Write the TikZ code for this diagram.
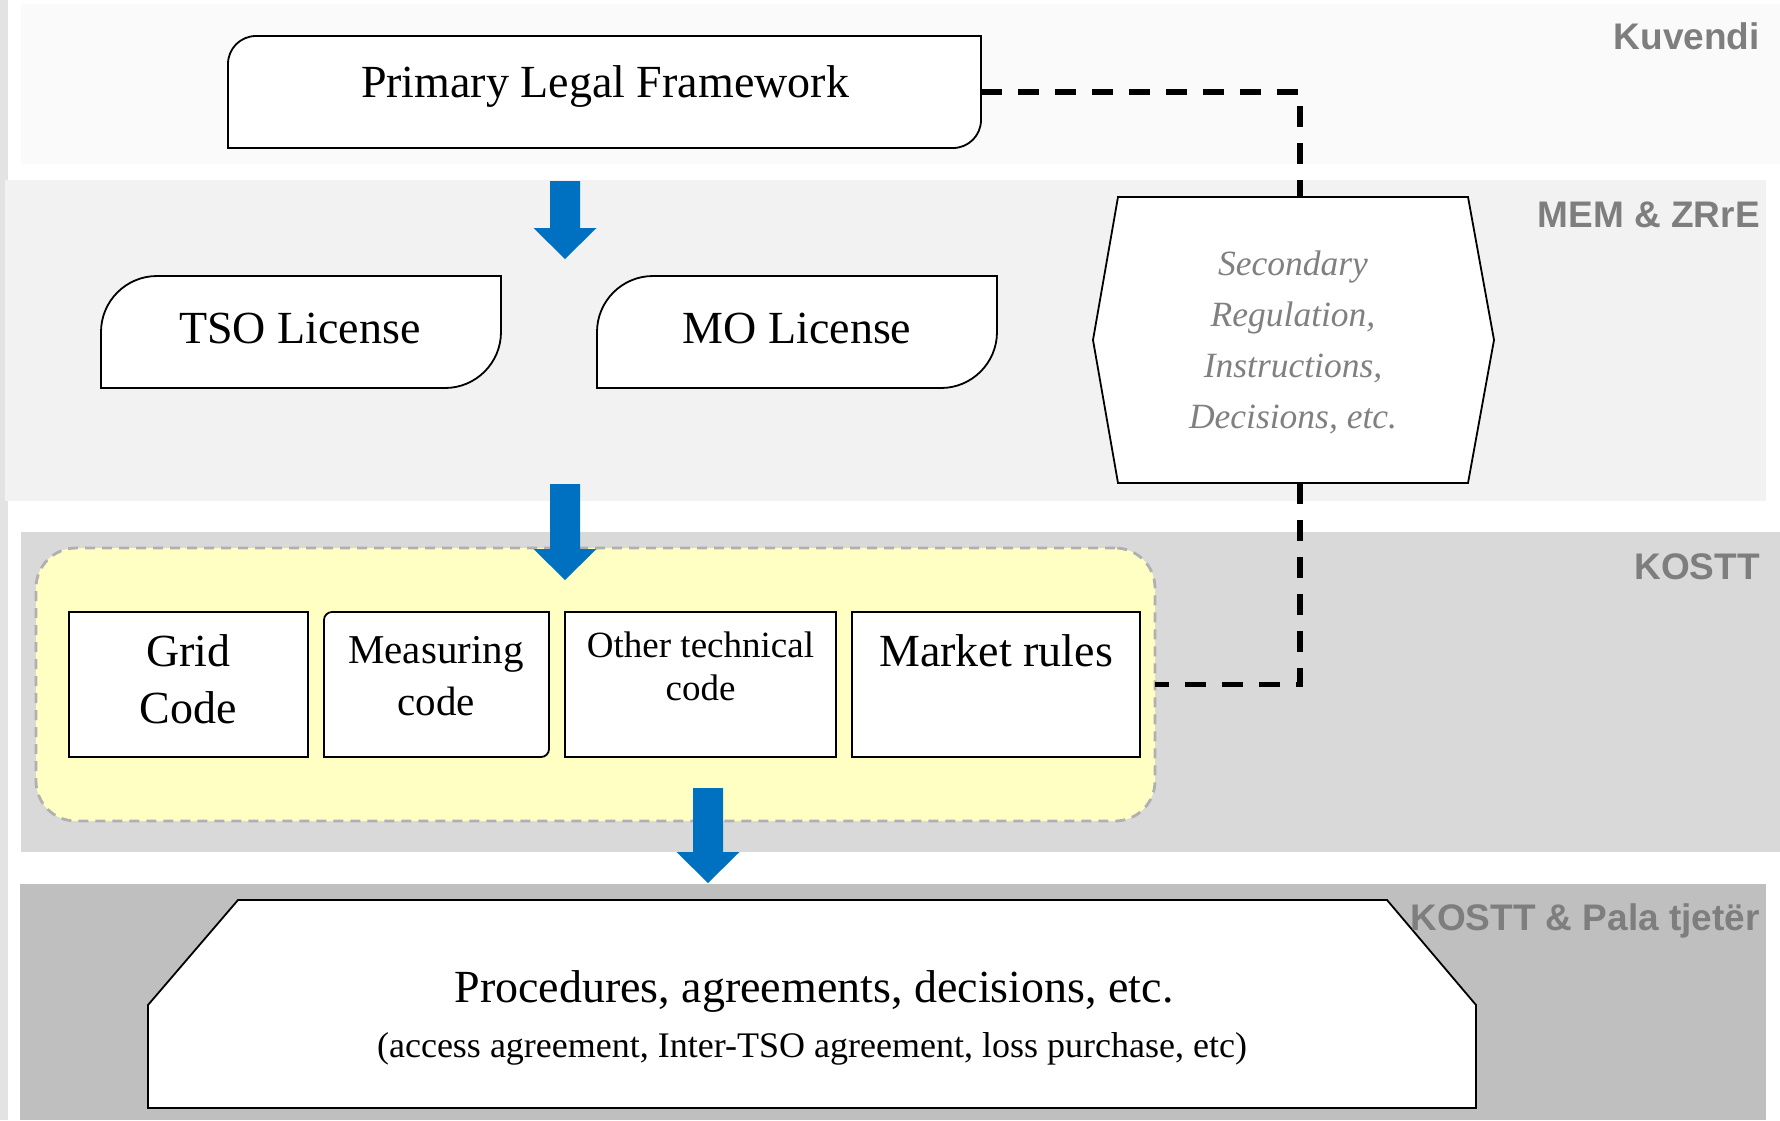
\documentclass[tikz,border=0pt]{standalone}
\usepackage{fontspec}
\setmainfont{Liberation Serif}
\newfontfamily\labelfont{Liberation Sans}
\usetikzlibrary{calc}
\definecolor{bandA}{HTML}{FAFAFA}
\definecolor{bandB}{HTML}{F2F2F2}
\definecolor{bandC}{HTML}{D9D9D9}
\definecolor{bandD}{HTML}{BFBFBF}
\definecolor{stripgray}{HTML}{E3E3E3}
\definecolor{arrblue}{HTML}{0070C0}
\definecolor{yelfill}{HTML}{FFFFC4}
\definecolor{yelborder}{HTML}{B0B0B0}
\definecolor{labgray}{HTML}{7E7E7E}
\definecolor{hextext}{HTML}{808080}
\newcommand{\bluearrow}[3]{\fill[arrblue] (#1-15,#2) -- (#1+15,#2) -- (#1+15,#3-31) -- (#1+31.5,#3-31) -- (#1,#3) -- (#1-31.5,#3-31) -- (#1-15,#3-31) -- cycle;}
\begin{document}
\begin{tikzpicture}[x=1pt,y=-1pt,
  area/.style={draw=none,inner sep=0pt,outer sep=0pt},
  boxline/.style={draw=black,line width=1.8pt,fill=white,line join=miter},
  conn/.style={draw=black,line width=5.5pt,dash pattern=on 21pt off 16pt},
  yelbox/.style={fill=yelfill,draw=yelborder,line width=2.8pt,dash pattern=on 10pt off 7pt,rounded corners=40pt},
  lab/.style={anchor=base east,text=labgray,font=\labelfont\bfseries\fontsize{37}{44}\selectfont,inner sep=0pt},
  txt/.style={inner sep=0pt,anchor=base,text=black},
]
\useasboundingbox (0,0) rectangle (1780,1120);
% background bands
\fill[white] (0,0) rectangle (1780,1120);
\fill[stripgray] (0,0) rectangle (8,1120);
\fill[bandA] (21,4) rectangle (1780,164);
\fill[bandB] (5,180) rectangle (1766,501);
\fill[bandC] (21,532) rectangle (1780,852);
\fill[bandD] (20,884) rectangle (1766,1120);

% Primary Legal Framework
\node[area,minimum width=753pt,minimum height=112pt] (plf) at (604.5,92) {};
\draw[boxline] (228,148) -- (228,64) .. controls (228,48.5) and (240.5,36) .. (256,36) -- (981,36) -- (981,120) .. controls (981,135.5) and (968.5,148) .. (953,148) -- cycle;
\node[txt,font=\fontsize{46}{52}\selectfont] (plft) at (605,97) {Primary Legal Framework};

% Licenses
\node[area,minimum width=400pt,minimum height=112pt] (tso) at (301,332) {};
\draw[boxline] (101,388) -- (101,332) .. controls (101,301.1) and (126.1,276) .. (157,276) -- (501,276) -- (501,332) .. controls (501,362.9) and (475.9,388) .. (445,388) -- cycle;
\node[txt,font=\fontsize{46}{52}\selectfont] (tsot) at (300,343) {TSO License};
\node[area,minimum width=400pt,minimum height=112pt] (mo) at (797,332) {};
\draw[boxline] (597,388) -- (597,332) .. controls (597,301.1) and (622.1,276) .. (653,276) -- (997,276) -- (997,332) .. controls (997,362.9) and (971.9,388) .. (941,388) -- cycle;
\node[txt,font=\fontsize{46}{52}\selectfont] (mot) at (797,343) {MO License};

% Secondary regulation hexagon
\node[area,minimum width=401pt,minimum height=286pt] (hex) at (1293.5,340) {};
\draw[boxline] (1118,197) -- (1468,197) -- (1494,340) -- (1468,483) -- (1118,483) -- (1093,340) -- cycle;
\node[area,text=hextext,font=\itshape\fontsize{35.5}{51}\selectfont,align=center] (hext) at (1293,342) {Secondary\\Regulation,\\Instructions,\\Decisions, etc.};

% KOSTT codes
\node[yelbox,minimum width=1119pt,minimum height=273pt,inner sep=0pt,outer sep=0pt] (yel) at (595.5,684.5) {};
\node[area,boxline,minimum width=239pt,minimum height=145pt] (grid) at (188.5,684.5) {};
\node[area,font=\fontsize{46}{57}\selectfont,align=center] (gridt) at (188.5,679.5) {Grid\\Code};
\node[area,minimum width=225pt,minimum height=145pt] (meas) at (436.5,684.5) {};
\draw[boxline] (324,757) -- (324,620) .. controls (324,615.6) and (327.6,612) .. (332,612) -- (549,612) -- (549,749) .. controls (549,753.4) and (545.4,757) .. (541,757) -- cycle;
\node[area,font=\fontsize{41}{52}\selectfont,align=center] (meast) at (436,676) {Measuring\\code};
\node[area,boxline,minimum width=271pt,minimum height=145pt] (oth) at (700.5,684.5) {};
\node[area,font=\fontsize{37}{43}\selectfont,align=center] (otht) at (700.5,666.5) {Other technical\\code};
\node[area,boxline,minimum width=288pt,minimum height=145pt] (mkt) at (996,684.5) {};
\node[txt,font=\fontsize{46}{52}\selectfont] (mktt) at (996,666) {Market rules};

% Procedures
\node[area,minimum width=1328pt,minimum height=208pt] (proc) at (812,1004) {};
\draw[boxline] (238,900) -- (1387,900) -- (1476,1005) -- (1476,1108) -- (148,1108) -- (148,1005) -- cycle;
\node[txt,font=\fontsize{46}{52}\selectfont] (proct) at (814,1002) {Procedures, agreements, decisions, etc.};
\node[txt,font=\fontsize{36}{42}\selectfont] (procs) at (812,1057) {(access agreement, Inter-TSO agreement, loss purchase, etc)};

% blue block arrows
\bluearrow{565}{181}{259}
\bluearrow{565}{484}{580}
\bluearrow{708}{788}{883}

% dashed connectors
\coordinate (k1) at (1300,92);
\draw[conn] (plf.east) -- (k1) -- (k1 |- hex.north);
\draw[conn] (k1 |- hex.south) -- (k1 |- yel.east) -- (yel.east);

% layer labels
\node[lab] (lkuv) at (1760,49) {Kuvendi};
\node[lab] (lmem) at (1760,227) {MEM \& ZRrE};
\node[lab] (lkos) at (1760,579) {KOSTT};
\node[lab] (lpala) at (1760,930) {KOSTT \& Pala tjetër};
\end{tikzpicture}
\end{document}
